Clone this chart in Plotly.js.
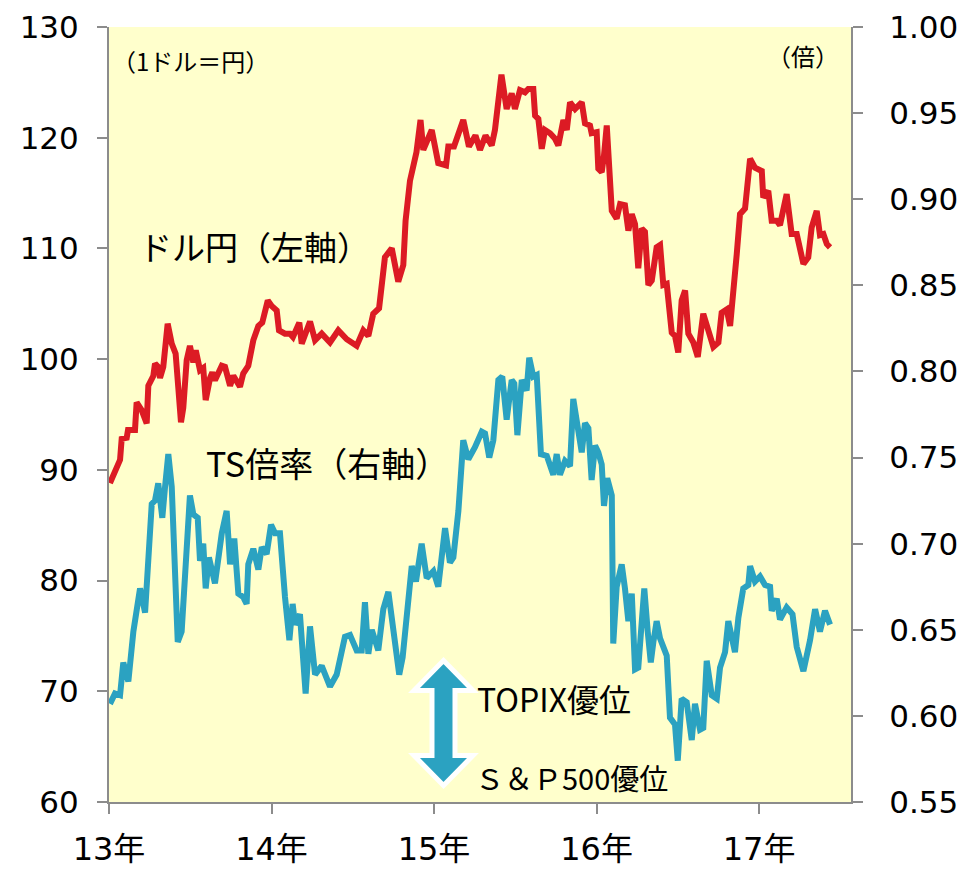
<!DOCTYPE html>
<html>
<head>
<meta charset="utf-8">
<script src="https://cdn.plot.ly/plotly-3.0.1.min.js"></script>
<style>html,body{margin:0;padding:0;background:#fff;}#chart{width:961px;height:871px;}</style>
</head>
<body>
<div id="chart"></div>
<script>
// ドル円 (left axis), x in decimal years
const usdjpyDates = [2013.006,2013.068,2013.078,2013.109,2013.117,2013.160,2013.170,2013.201,2013.232,2013.242,2013.273,2013.283,2013.303,2013.314,2013.334,2013.361,2013.386,2013.410,2013.426,2013.443,2013.457,2013.478,2013.498,2013.519,2013.534,2013.560,2013.580,2013.595,2013.622,2013.636,2013.652,2013.694,2013.714,2013.745,2013.765,2013.786,2013.806,2013.826,2013.857,2013.888,2013.919,2013.943,2013.977,2014.001,2014.032,2014.046,2014.083,2014.114,2014.132,2014.171,2014.186,2014.237,2014.268,2014.309,2014.360,2014.411,2014.463,2014.524,2014.565,2014.596,2014.626,2014.662,2014.698,2014.740,2014.780,2014.811,2014.825,2014.852,2014.892,2014.917,2014.934,2014.986,2015.026,2015.074,2015.088,2015.123,2015.180,2015.215,2015.255,2015.283,2015.317,2015.355,2015.375,2015.415,2015.447,2015.478,2015.498,2015.529,2015.560,2015.580,2015.611,2015.622,2015.642,2015.663,2015.683,2015.714,2015.745,2015.765,2015.796,2015.817,2015.837,2015.868,2015.909,2015.929,2015.960,2015.970,2016.001,2016.011,2016.032,2016.046,2016.063,2016.094,2016.124,2016.145,2016.175,2016.196,2016.217,2016.237,2016.257,2016.278,2016.298,2016.319,2016.340,2016.370,2016.391,2016.411,2016.432,2016.463,2016.483,2016.503,2016.524,2016.545,2016.565,2016.596,2016.623,2016.657,2016.688,2016.719,2016.750,2016.770,2016.801,2016.822,2016.863,2016.883,2016.914,2016.945,2016.975,2017.017,2017.026,2017.057,2017.078,2017.109,2017.129,2017.170,2017.201,2017.232,2017.273,2017.303,2017.324,2017.355,2017.375,2017.396,2017.417,2017.437];
const usdjpyValues = [88.8,90.9,92.8,92.9,93.6,93.6,96.1,95.4,94.2,97.6,98.5,99.6,99.3,98.3,99.3,103.2,101.4,100.5,97.5,94.3,95.6,99.9,101.2,99.7,100.8,99.0,99.2,96.3,98.3,98.8,98.1,99.4,99.3,97.6,98.5,98.1,97.5,98.7,99.4,101.7,103.0,103.3,105.3,104.8,104.4,102.6,102.3,102.3,102.0,103.3,101.4,103.4,101.7,102.3,101.5,102.6,101.8,101.2,102.6,102.1,104.1,104.6,109.2,110.0,107.0,108.5,112.5,116.1,118.7,121.6,118.9,120.7,117.7,117.5,119.2,119.2,121.6,119.2,120.2,118.9,120.2,119.3,120.7,125.7,122.6,124.0,122.6,124.3,124.1,124.4,124.4,122.0,121.7,119.0,120.7,120.4,119.9,119.3,121.6,120.7,123.2,122.6,123.2,121.3,121.1,120.4,120.5,117.2,116.9,118.4,121.1,113.4,112.7,114.0,113.9,111.6,113.1,112.2,108.2,111.8,111.5,106.7,107.1,110.1,110.3,106.7,106.8,102.4,102.1,100.6,105.3,106.2,102.3,101.5,100.2,104.1,102.4,101.1,101.5,104.2,104.5,103.0,109.5,113.1,113.6,118.1,117.3,117.0,114.6,115.2,112.5,112.5,112.1,114.9,111.3,111.3,108.6,109.2,111.9,113.4,111.2,111.3,110.4,110.1];

// TS倍率 (right axis)
const tsDates = [2013.006,2013.037,2013.068,2013.088,2013.119,2013.150,2013.191,2013.222,2013.263,2013.283,2013.303,2013.328,2013.345,2013.365,2013.386,2013.423,2013.447,2013.472,2013.498,2013.519,2013.546,2013.560,2013.580,2013.595,2013.615,2013.652,2013.694,2013.724,2013.745,2013.771,2013.796,2013.826,2013.847,2013.857,2013.888,2013.919,2013.940,2013.970,2013.997,2014.022,2014.052,2014.083,2014.110,2014.130,2014.145,2014.175,2014.210,2014.237,2014.268,2014.309,2014.360,2014.401,2014.452,2014.483,2014.524,2014.555,2014.575,2014.596,2014.617,2014.657,2014.688,2014.719,2014.750,2014.786,2014.807,2014.842,2014.863,2014.889,2014.924,2014.955,2014.996,2015.026,2015.068,2015.098,2015.119,2015.150,2015.180,2015.211,2015.252,2015.294,2015.314,2015.340,2015.365,2015.396,2015.420,2015.447,2015.478,2015.494,2015.513,2015.540,2015.570,2015.586,2015.611,2015.632,2015.658,2015.694,2015.714,2015.734,2015.755,2015.775,2015.806,2015.837,2015.857,2015.888,2015.909,2015.929,2015.950,2015.970,2015.991,2016.011,2016.032,2016.046,2016.066,2016.094,2016.103,2016.124,2016.155,2016.175,2016.196,2016.217,2016.237,2016.257,2016.274,2016.294,2016.315,2016.334,2016.350,2016.370,2016.391,2016.432,2016.452,2016.483,2016.500,2016.524,2016.555,2016.586,2016.606,2016.637,2016.657,2016.678,2016.709,2016.740,2016.760,2016.791,2016.811,2016.852,2016.873,2016.903,2016.934,2016.945,2016.975,2017.006,2017.037,2017.068,2017.078,2017.109,2017.129,2017.170,2017.206,2017.232,2017.273,2017.314,2017.345,2017.375,2017.406,2017.437];
const tsValues = [0.607,0.613,0.612,0.631,0.620,0.649,0.674,0.660,0.723,0.725,0.735,0.715,0.733,0.752,0.733,0.643,0.649,0.692,0.728,0.717,0.715,0.690,0.700,0.674,0.692,0.677,0.706,0.719,0.688,0.703,0.671,0.669,0.665,0.688,0.697,0.685,0.698,0.694,0.711,0.706,0.706,0.669,0.644,0.665,0.653,0.659,0.613,0.652,0.624,0.629,0.617,0.624,0.646,0.647,0.638,0.638,0.666,0.636,0.650,0.638,0.662,0.672,0.651,0.624,0.634,0.667,0.687,0.678,0.700,0.680,0.684,0.675,0.709,0.689,0.692,0.719,0.760,0.749,0.756,0.765,0.764,0.750,0.760,0.795,0.797,0.772,0.795,0.793,0.763,0.795,0.789,0.808,0.797,0.798,0.752,0.751,0.746,0.740,0.752,0.740,0.748,0.745,0.784,0.766,0.753,0.770,0.767,0.737,0.757,0.753,0.746,0.722,0.738,0.728,0.642,0.675,0.688,0.674,0.655,0.671,0.627,0.628,0.655,0.674,0.649,0.631,0.643,0.655,0.645,0.635,0.599,0.595,0.574,0.610,0.608,0.586,0.607,0.592,0.593,0.632,0.612,0.610,0.628,0.637,0.655,0.637,0.657,0.674,0.676,0.687,0.678,0.681,0.676,0.675,0.661,0.668,0.656,0.663,0.659,0.640,0.626,0.644,0.662,0.649,0.661,0.653];

const yearTicks = [2013, 2014, 2015, 2016, 2017];
const yearLabels = ['13年', '14年', '15年', '16年', '17年'];
const leftTicks = [60, 70, 80, 90, 100, 110, 120, 130];
const rightTicks = [0.55, 0.60, 0.65, 0.70, 0.75, 0.80, 0.85, 0.90, 0.95, 1.00];

const RED = '#DC1B24';
const BLUE = '#2BA2C1';
const AXIS = '#8C8C8C';
const TICKFONT = {family: 'DejaVu Sans, Noto Sans CJK JP, sans-serif', size: 31, color: '#000'};
const JP = 'Noto Sans CJK JP, sans-serif';

const traces = [
  {x: tsDates, y: tsValues, type: 'scatter', mode: 'lines', yaxis: 'y2',
   line: {color: BLUE, width: 6}, hoverinfo: 'skip'},
  {x: usdjpyDates, y: usdjpyValues, type: 'scatter', mode: 'lines', yaxis: 'y',
   line: {color: RED, width: 6}, hoverinfo: 'skip'}
];

const layout = {
  width: 961, height: 871,
  margin: {l: 109, r: 110, t: 27, b: 69, pad: 0},
  paper_bgcolor: '#FFFFFF',
  plot_bgcolor: '#FFFFCC',
  showlegend: false,
  xaxis: {
    range: [2013, 2017.566], tickvals: yearTicks, ticktext: yearLabels,
    showgrid: false, zeroline: false, showline: true, linecolor: AXIS, linewidth: 2,
    ticks: 'outside', ticklen: 10, tickwidth: 2, tickcolor: AXIS,
    tickfont: Object.assign({}, TICKFONT, {size: 32}), ticklabelstandoff: 8
  },
  yaxis: {
    range: [60, 130], tickvals: leftTicks,
    showgrid: false, zeroline: false, showline: true, linecolor: AXIS, linewidth: 2,
    ticks: 'outside', ticklen: 10, tickwidth: 2, tickcolor: AXIS,
    tickfont: TICKFONT, ticklabelstandoff: 12
  },
  yaxis2: {
    range: [0.55, 1.00], tickvals: rightTicks, tickformat: '.2f',
    overlaying: 'y', side: 'right',
    showgrid: false, zeroline: false, showline: true, linecolor: AXIS, linewidth: 2,
    ticks: 'outside', ticklen: 10, tickwidth: 2, tickcolor: AXIS,
    tickfont: TICKFONT, ticklabelstandoff: 20
  },
  shapes: [
    {type: 'path', xref: 'paper', yref: 'paper',
     path: 'M 0.4508 0.1826 L 0.4905 0.1439 L 0.4663 0.1439 L 0.4663 0.0600 L 0.4905 0.0600 L 0.4508 0.0213 L 0.4111 0.0600 L 0.4353 0.0600 L 0.4353 0.1439 L 0.4111 0.1439 Z',
     fillcolor: BLUE, line: {color: '#FFFFFF', width: 5}}
  ],
  annotations: [
    {text: '（1ドル＝円）', xref: 'paper', yref: 'paper', x: 0.002, y: 0.9568, xanchor: 'left', yanchor: 'middle', showarrow: false, font: {family: JP, size: 24, color: '#000'}},
    {text: '（倍）', xref: 'paper', yref: 'paper', x: 0.986, y: 0.9632, xanchor: 'right', yanchor: 'middle', showarrow: false, font: {family: JP, size: 24, color: '#000'}},
    {text: 'ドル円（左軸）', xref: 'paper', yref: 'paper', x: 0.0375, y: 0.7168, xanchor: 'left', yanchor: 'middle', showarrow: false, font: {family: JP, size: 33, color: '#000'}},
    {text: 'TS倍率（右軸）', xref: 'paper', yref: 'paper', x: 0.128, y: 0.4381, xanchor: 'left', yanchor: 'middle', showarrow: false, font: {family: JP, size: 34, color: '#000'}},
    {text: 'TOPIX優位', xref: 'paper', yref: 'paper', x: 0.4935, y: 0.1348, xanchor: 'left', yanchor: 'middle', showarrow: false, font: {family: JP, size: 32, color: '#000'}},
    {text: 'Ｓ＆Ｐ500優位', xref: 'paper', yref: 'paper', x: 0.4900, y: 0.0329, xanchor: 'left', yanchor: 'middle', showarrow: false, font: {family: JP, size: 29, color: '#000'}}
  ]
};

Plotly.newPlot('chart', traces, layout, {staticPlot: true, displayModeBar: false});
</script>
</body>
</html>
